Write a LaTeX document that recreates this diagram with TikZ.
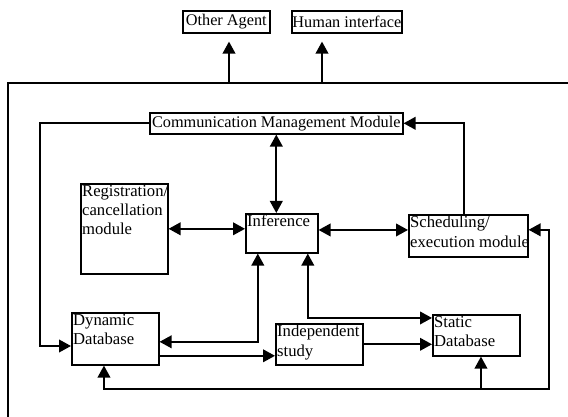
\documentclass[tikz,border=0pt]{standalone}
\usepackage{fontspec}
\setmainfont{Liberation Serif}
\usepackage{tikz}
\usetikzlibrary{arrows.meta}

\newcommand{\boxtext}[3]{\parbox[c][#2][t]{#1}{\raggedright\hyphenpenalty=10000 #3}}

\tikzset{
  modbox/.style={draw, line width=1.2pt, inner sep=1pt, anchor=north west,
    font=\fontsize{12.5}{14.5}\selectfont},
  linebox/.style={modbox, inner sep=0.5pt, align=center, font=\fontsize{12.2}{14}\selectfont},
  oneway/.style={-{Triangle[length=9pt,width=9.5pt]}, line width=1.3pt},
  twoway/.style={{Triangle[length=9pt,width=9.5pt]}-{Triangle[length=9pt,width=9.5pt]}, line width=1.3pt}
}

\begin{document}
\begin{tikzpicture}[x=0.75pt,y=-0.75pt]
\useasboundingbox (0,0) rectangle (568,417);
% outer frame
\draw[line width=1.3pt] (590,83) -| (8,440);

% boxes
\node[linebox, minimum width=65.25pt, minimum height=16.5pt] (OA) at (182,10) {Other Agent};
\node[linebox, minimum width=80.25pt, minimum height=16.5pt] (HI) at (291,10) {Human interface};
\node[linebox, minimum width=189.75pt, minimum height=15.75pt] (CMM) at (149,112) {Communication Management Module};
\node[modbox] (Reg) at (80,183) {\boxtext{63.25pt}{65.5pt}{Registration/\\cancellation\\module}};
\node[modbox] (Inf) at (245,213) {\boxtext{52pt}{27.25pt}{Inference}};
\node[modbox] (Sched) at (408,214) {\boxtext{87.25pt}{29.5pt}{Scheduling/\\\mbox{execution module}}};
\node[modbox] (DD) at (71,312) {\boxtext{63.25pt}{37pt}{Dynamic\\Database}};
\node[modbox] (IS) at (275,323) {\boxtext{63.25pt}{28.75pt}{Independent\\study}};
\node[modbox] (SDB) at (432,314) {\boxtext{63.25pt}{28.75pt}{Static\\Database}};

% free ends
\coordinate (oaFoot) at (229,83);
\coordinate (hiFoot) at (322,83);
\coordinate (busR) at (549,389);

% connectors
\draw[oneway, shorten >=6pt] (oaFoot) -- (oaFoot |- OA.south);
\draw[oneway, shorten >=6pt] (hiFoot) -- (hiFoot |- HI.south);
\draw[oneway] (CMM.west) -| (40,346) -- (DD.west |- 40,346);
\draw[oneway] ([xshift=-3.5pt]Sched.north) |- (CMM.east);
\draw[twoway] (CMM.south) -- (CMM.south |- Inf.north);
\draw[twoway] (Reg.east) -- (Reg.east -| Inf.west);
\draw[twoway] ([yshift=2.5pt]Inf.east) -- ([yshift=2.5pt]Inf.east -| Sched.west);
\draw[twoway] ([yshift=4.5pt]Sched.east) -| (busR) -| ([xshift=-8.5pt]DD.south);
\draw[oneway] ([xshift=3.5pt]SDB.south |- busR) -- ([xshift=3.5pt]SDB.south);
\draw[twoway] ([yshift=-2.25pt]DD.east) -| ([xshift=-18pt]Inf.south);
\draw[twoway] ([xshift=19.5pt]Inf.south) |- ([yshift=13pt]SDB.west);
\draw[oneway] ([yshift=-12.75pt]DD.east) -- ([yshift=-12.75pt]DD.east -| IS.west);
\draw[oneway] (IS.east) -- (IS.east -| SDB.west);
\end{tikzpicture}
\end{document}
